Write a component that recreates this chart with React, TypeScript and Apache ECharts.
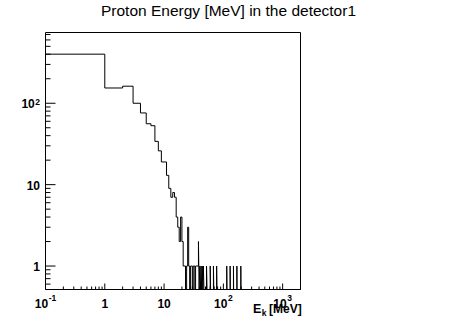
import React, { useEffect, useRef } from 'react';
import * as echarts from 'echarts';

// ---- Data ----
const TITLE = 'Proton Energy [MeV] in the detector1';
const X_TITLE_MAIN = 'E';
const X_TITLE_SUB = 'k';
const X_TITLE_UNIT = '[MeV]';

const X_MIN = 0.1;
const X_MAX = 2000;
const Y_MIN = 0.515;
const Y_MAX = 740;

const BIN_WIDTH = 1; // MeV
const N_BINS = 2000;

// bins 0..46 (each 1 MeV wide)
const DENSE_COUNTS = [
  401, 154, 162, 100, 76, 56, 53, 34, 26, 19, 19, 13, 9, 7, 8, 7, 4, 3, 2, 4, 2, 1, 1, 0,
  1, 3, 1, 0, 1, 1, 0, 1, 1, 0, 1, 1, 1, 1, 2, 0, 1, 0, 1, 0, 1, 0, 1,
];
// isolated single counts at higher energies (bin low edge, MeV)
const SPARSE_BINS = [52, 60, 68, 77, 114, 130, 148, 169, 197];
const SPARSE_COUNTS = [1, 1, 1, 1, 1, 1, 1, 1, 1];

const X_LABEL_VALUES = [0.1, 1, 10, 100, 1000];
const X_LABEL_BASES = ['10', '1', '10', '10', '10'];
const X_LABEL_EXPS = ['-1', '', '', '2', '3'];

const Y_LABEL_VALUES = [1, 10, 100];
const Y_LABEL_BASES = ['1', '10', '10'];
const Y_LABEL_EXPS = ['', '', '2'];

const FONT = '"Liberation Sans", Helvetica, Arial, sans-serif';

function logTicks(lo: number, hi: number) {
  const major: number[] = [];
  const minor: number[] = [];
  for (let e = -2; e <= 4; e++) {
    for (let m = 1; m <= 9; m++) {
      const v = m * Math.pow(10, e);
      const vv = parseFloat(v.toPrecision(6));
      if (vv < lo * 0.9999 || vv > hi * 1.0001) continue;
      if (m === 1) major.push(vv);
      else minor.push(vv);
    }
  }
  return { major, minor };
}

function charW(s: string, fs: number) {
  let w = 0;
  for (const c of s) w += (c === '-' ? 0.333 : 0.556) * fs;
  return w;
}

function buildOutline() {
  const counts = new Array(N_BINS).fill(0);
  DENSE_COUNTS.forEach((c, i) => (counts[i] = c));
  SPARSE_BINS.forEach((b, i) => (counts[Math.round(b / BIN_WIDTH)] = SPARSE_COUNTS[i]));
  const yv = (c: number) => (c > 0 ? c : Y_MIN);
  const pts: number[][] = [[X_MIN, yv(counts[0])]];
  for (let i = 1; i < N_BINS; i++) {
    if (counts[i] !== counts[i - 1]) {
      pts.push([i * BIN_WIDTH, yv(counts[i - 1])]);
      pts.push([i * BIN_WIDTH, yv(counts[i])]);
    }
  }
  pts.push([X_MAX, yv(counts[N_BINS - 1])]);
  return pts;
}

export default function App() {
  const ref = useRef<HTMLDivElement>(null);

  useEffect(() => {
    if (!ref.current) return;
    const chart = echarts.init(ref.current, undefined, { renderer: 'svg' });

    const xt = logTicks(X_MIN, X_MAX);
    const yt = logTicks(Y_MIN, Y_MAX);
    const xTickData = [
      ...xt.major.map((v) => [v, Y_MIN, 1]),
      ...xt.minor.map((v) => [v, Y_MIN, 0]),
    ];
    const yTickData = [
      ...yt.major.map((v) => [X_MIN, v, 1]),
      ...yt.minor.map((v) => [X_MIN, v, 0]),
    ];

    const txt = (x: number, y: number, text: string, fs: number, align: string, bold = true) => ({
      type: 'text',
      x,
      y,
      style: {
        text,
        fill: '#000',
        fontSize: fs,
        fontWeight: bold ? 'bold' : 'normal',
        fontFamily: FONT,
        align,
        textAlign: align,
        verticalAlign: 'middle',
        textVerticalAlign: 'middle',
      },
    });

    const option: any = {
      animation: false,
      backgroundColor: '#fff',
      grid: {
        show: true,
        left: 45.5,
        top: 32.5,
        width: 255,
        height: 257,
        borderColor: '#000',
        borderWidth: 1,
        backgroundColor: 'transparent',
      },
      xAxis: {
        type: 'log',
        logBase: 10,
        min: X_MIN,
        max: X_MAX,
        axisLine: { show: false },
        axisTick: { show: false },
        axisLabel: { show: false },
        splitLine: { show: false },
        minorTick: { show: false },
      },
      yAxis: {
        type: 'log',
        logBase: 10,
        min: Y_MIN,
        max: Y_MAX,
        axisLine: { show: false },
        axisTick: { show: false },
        axisLabel: { show: false },
        splitLine: { show: false },
        minorTick: { show: false },
      },
      graphic: [
        txt(228.5, 10.5, TITLE, 15.5, 'center', false),
        txt(253, 309, X_TITLE_MAIN, 12.5, 'left'),
        txt(261.8, 313, X_TITLE_SUB, 8.5, 'left'),
        txt(269, 309, X_TITLE_UNIT, 12, 'left'),
      ],
      series: [
        {
          type: 'line',
          data: buildOutline(),
          showSymbol: false,
          symbol: 'none',
          lineStyle: { color: '#000', width: 1 },
          clip: true,
          silent: true,
          z: 5,
        },
        {
          type: 'custom',
          data: xTickData,
          silent: true,
          z: 6,
          renderItem: (params: any, api: any) => {
            const p = api.coord([api.value(0), Y_MIN]);
            const len = api.value(2) ? 6 : 3;
            return {
              type: 'line',
              shape: { x1: p[0], y1: p[1], x2: p[0], y2: p[1] - len },
              style: { stroke: '#000', lineWidth: 1 },
            };
          },
        },
        {
          type: 'custom',
          data: yTickData,
          silent: true,
          z: 6,
          renderItem: (params: any, api: any) => {
            const p = api.coord([X_MIN, api.value(1)]);
            const len = api.value(2) ? 10 : 5;
            return {
              type: 'line',
              shape: { x1: p[0], y1: p[1], x2: p[0] + len, y2: p[1] },
              style: { stroke: '#000', lineWidth: 1 },
            };
          },
        },
        {
          type: 'custom',
          data: X_LABEL_VALUES.map((v) => [v, Y_MIN]),
          silent: true,
          z: 6,
          renderItem: (params: any, api: any) => {
            const i = params.dataIndex;
            const p = api.coord([api.value(0), Y_MIN]);
            const base = X_LABEL_BASES[i];
            const exp = X_LABEL_EXPS[i];
            const bfs = 12;
            const efs = 8.5;
            const bw = charW(base, bfs);
            const ew = exp ? charW(exp, efs) + 0.5 : 0;
            const start = p[0] - (bw + ew) / 2;
            const children: any[] = [txt(start, p[1] + 14, base, bfs, 'left')];
            if (exp) children.push(txt(start + bw + 0.5, p[1] + 8.5, exp, efs, 'left'));
            return { type: 'group', children };
          },
        },
        {
          type: 'custom',
          data: Y_LABEL_VALUES.map((v) => [X_MIN, v]),
          silent: true,
          z: 6,
          renderItem: (params: any, api: any) => {
            const i = params.dataIndex;
            const p = api.coord([X_MIN, api.value(1)]);
            const base = Y_LABEL_BASES[i];
            const exp = Y_LABEL_EXPS[i];
            const bfs = 12;
            const efs = 8.5;
            const right = p[0] - 5.5;
            const ew = exp ? charW(exp, efs) + 0.5 : 0;
            const children: any[] = [txt(right - ew, p[1] + 1, base, bfs, 'right')];
            if (exp) children.push(txt(right - ew + 0.5, p[1] - 1.5, exp, efs, 'left'));
            return { type: 'group', children };
          },
        },
      ],
    };

    chart.setOption(option);
    return () => chart.dispose();
  }, []);

  return (
    <div
      ref={ref}
      style={{ position: 'fixed', left: 0, top: 0, width: 449, height: 322, background: '#fff' }}
    />
  );
}
